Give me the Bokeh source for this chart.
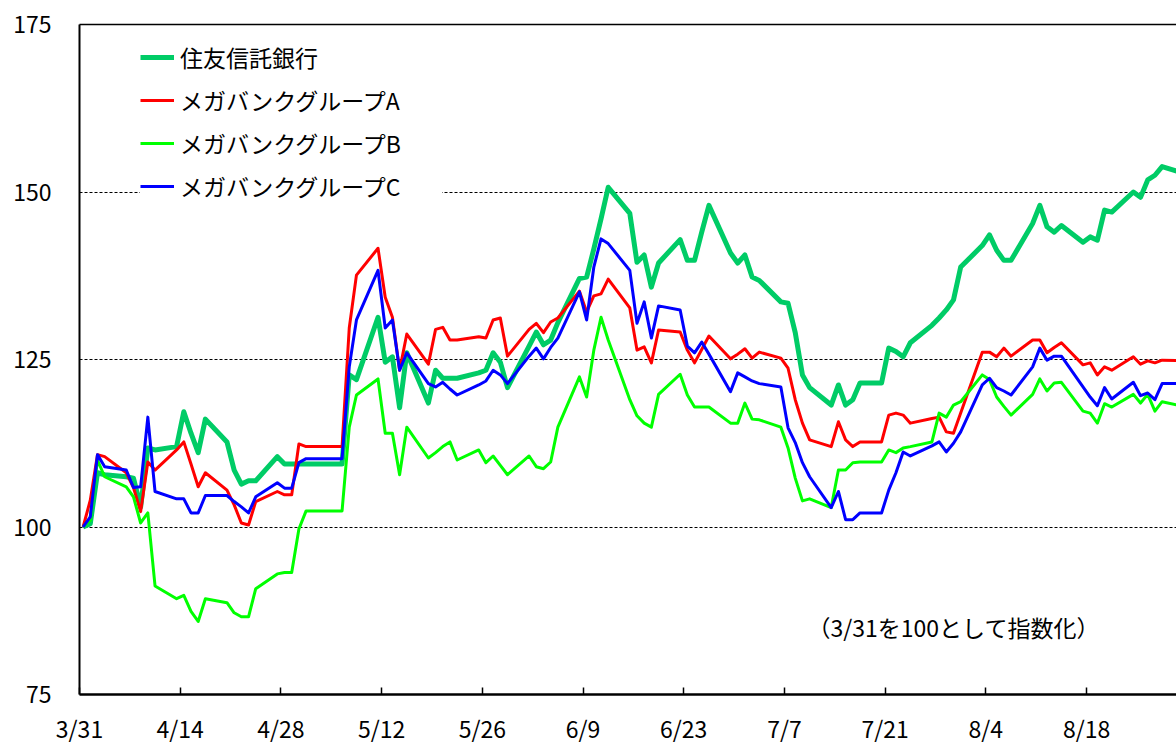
from bokeh.plotting import figure
from bokeh.models import FixedTicker, LinearAxis, Legend, LegendItem, Label, Range1d
from bokeh.embed import file_html
from bokeh.resources import INLINE

# Calendar days after 3/31 (trading days plus holiday rows shown flat)
DAYS = [0, 1, 2, 3,
        6, 7, 8, 9, 10,
        13, 14, 15, 16, 17,
        20, 21, 22, 23, 24,
        27, 28, 29, 30, 31,
        36, 37, 38,
        41, 42, 43, 44, 45,
        48, 49, 50, 51, 52,
        55, 56, 57, 58, 59,
        62, 63, 64, 65, 66,
        69, 70, 71, 72, 73,
        76, 77, 78, 79, 80,
        83, 84, 85, 86, 87,
        90, 91, 92, 93, 94,
        97, 98, 99, 100, 101,
        104, 105, 106, 107, 108,
        111, 112, 113, 114, 115,
        118, 119, 120, 121, 122,
        125, 126, 127, 128, 129,
        132, 133, 134, 135, 136,
        139, 140, 141, 142, 143,
        146, 147, 148, 149, 150,
        153]

SUMITOMO = [100, 100.5, 108.1, 107.8,
            107.5, 107.3, 103.0, 111.8, 111.5,
            112.0, 117.2, 114.0, 111.1, 116.1,
            112.7, 108.5, 106.4, 106.9, 106.9,
            110.5, 109.4, 109.4, 109.4, 109.4,
            109.4, 122.7, 122.0,
            131.3, 124.6, 125.4, 117.8, 126.0,
            118.5, 123.4, 122.2, 122.2, 122.2,
            123.0, 123.4, 126.0, 124.6, 120.8,
            127.0, 129.1, 127.2, 127.9, 130.5,
            137.1, 137.3, 141.5, 146.0, 150.7,
            146.8, 139.5, 140.6, 135.8, 139.4,
            142.9, 139.8, 139.8, 144.0, 148.0,
            140.9, 139.4, 140.6, 137.3, 136.8,
            133.6, 133.4, 129.0, 122.7, 120.8,
            118.2, 121.2, 118.2, 119.0, 121.5,
            121.5, 126.7, 126.2, 125.4, 127.5,
            130.1, 131.2, 132.4, 133.9, 138.8,
            142.0, 143.6, 141.3, 139.8, 139.8,
            145.3, 148.0, 144.8, 144.0, 145.0,
            142.5, 143.3, 142.8, 147.3, 147.0,
            150.0, 149.2, 151.8, 152.5, 153.8,
            152.8]

MEGA_A = [100, 104.0, 110.8, 110.5,
          108.1, 105.9, 102.3, 109.7, 108.5,
          111.5, 112.7, 109.4, 106.0, 108.1,
          105.5, 103.3, 100.6, 100.3, 103.8,
          105.3, 104.8, 104.8, 112.4, 112.0,
          112.0, 129.7, 137.6,
          141.6, 134.3, 131.3, 123.4, 128.8,
          124.3, 129.5, 129.8, 127.9, 127.9,
          128.4, 128.2, 130.9, 131.2, 125.5,
          129.5, 130.4, 129.0, 130.6, 131.2,
          135.2, 132.1, 134.5, 134.8, 137.0,
          132.7, 126.4, 126.9, 124.5, 129.4,
          129.1, 126.4, 124.5, 126.5, 128.5,
          125.1, 125.8, 126.6, 125.2, 126.1,
          125.2, 123.7, 119.0, 115.5, 113.0,
          112.0, 115.7, 113.0, 112.0, 112.7,
          112.7, 116.7, 117.0, 116.7, 115.5,
          116.2, 116.4, 114.2, 114.0, 117.0,
          126.1, 126.1, 125.4, 126.7, 125.5,
          127.9, 127.9, 126.0, 126.8, 127.5,
          124.2, 124.5, 122.7, 123.9, 123.4,
          125.4, 124.3, 124.8, 124.5, 124.9,
          124.8]

MEGA_B = [100, 101.0, 110.0, 107.5,
          106.0, 104.5, 100.6, 102.1, 91.2,
          89.3, 89.8, 87.4, 85.9, 89.3,
          88.7, 87.2, 86.6, 86.6, 90.8,
          93.0, 93.2, 93.2, 99.7, 102.4,
          102.4, 114.9, 119.7,
          122.1, 114.0, 114.0, 107.8, 114.9,
          110.3, 111.1, 112.0, 112.7, 110.0,
          111.5, 109.6, 110.6, 109.2, 107.8,
          110.6, 109.0, 108.7, 109.7, 114.9,
          122.4, 119.4, 126.4, 131.3, 127.9,
          119.0, 116.6, 115.5, 114.9, 119.8,
          122.8, 119.7, 117.9, 117.9, 117.9,
          115.5, 115.5, 118.5, 116.1, 116.0,
          114.9, 111.8, 107.3, 103.9, 104.2,
          102.9, 108.5, 108.5, 109.6, 109.7,
          109.7, 111.5, 111.1, 111.8, 112.0,
          112.7, 117.0, 116.4, 118.2, 118.7,
          122.7, 122.0, 119.4, 118.0, 116.7,
          119.8, 122.1, 120.3, 121.5, 121.6,
          117.3, 117.0, 115.5, 118.4, 117.9,
          119.8, 118.5, 119.8, 117.3, 118.7,
          118.0]

MEGA_C = [100, 101.5, 110.8, 109.0,
          108.5, 105.9, 106.0, 116.4, 105.3,
          104.2, 104.2, 102.1, 102.1, 104.7,
          104.7, 103.8, 103.0, 102.1, 104.5,
          106.6, 105.8, 105.8, 109.6, 110.2,
          110.2, 123.9, 130.9,
          138.3, 129.7, 130.9, 123.4, 126.0,
          121.4, 120.9, 121.6, 120.6, 119.7,
          121.2, 121.8, 123.4, 122.7, 121.4,
          125.5, 126.7, 125.1, 126.8, 128.2,
          135.1, 130.9, 138.8, 143.0, 142.3,
          138.3, 130.4, 133.6, 128.2, 133.0,
          132.4, 127.0, 126.0, 127.6, 125.8,
          120.2, 123.0, 122.4, 121.8, 121.4,
          120.9, 114.8, 112.6, 109.6, 107.5,
          102.9, 105.3, 101.1, 101.1, 102.1,
          102.1, 105.5, 108.1, 111.2, 110.6,
          112.1, 112.7, 111.2, 112.5, 114.2,
          121.2, 122.2, 120.8, 120.3, 119.7,
          123.9, 126.7, 124.9, 125.5, 125.5,
          120.9, 119.4, 118.1, 120.8, 119.1,
          121.6, 119.6, 120.0, 119.0, 121.4,
          121.4]

SERIES_NAMES = ["住友信託銀行", "メガバンクグループA", "メガバンクグループB", "メガバンクグループC"]
SERIES_COLORS = ["#00CC66", "#FF0000", "#00FF00", "#0000FF"]
SERIES_WIDTHS = [5, 3, 3, 3]

TICK_DAYS = [0, 14, 28, 42, 56, 70, 84, 98, 112, 126, 140]
TICK_LABELS = ["3/31", "4/14", "4/28", "5/12", "5/26", "6/9", "6/23", "7/7", "7/21", "8/4", "8/18"]
Y_TICKS = [75, 100, 125, 150, 175]
NOTE = "（3/31を100として指数化）"

FONT = "Noto Sans CJK JP"

# points sit in the middle of each day slot
xs = [d + 0.5 for d in DAYS]

p = figure(width=1176, height=747, output_backend="svg", toolbar_location=None,
           x_range=Range1d(0, 152.5), y_range=Range1d(75, 175),
           min_border_left=79, min_border_right=0, min_border_top=24, min_border_bottom=52,
           outline_line_color=None, background_fill_color="white", border_fill_color="white")

# x axis
p.xaxis.ticker = FixedTicker(ticks=TICK_DAYS)
p.xaxis.major_label_overrides = {d: lab for d, lab in zip(TICK_DAYS, TICK_LABELS)}
p.xaxis.major_tick_in = 7
p.xaxis.major_tick_out = 0
p.xaxis.major_tick_line_width = 1.5
p.xaxis.major_tick_line_color = "black"
p.xaxis.minor_tick_line_color = None
p.xaxis.axis_line_width = 2.5
p.xaxis.axis_line_color = "black"
p.xaxis.major_label_text_font = FONT
p.xaxis.major_label_text_font_size = "23px"
p.xaxis.major_label_text_color = "black"
p.xaxis.major_label_standoff = 16

# y axis
p.yaxis.ticker = FixedTicker(ticks=Y_TICKS)
p.yaxis.major_tick_in = 0
p.yaxis.major_tick_out = 0
p.yaxis.minor_tick_line_color = None
p.yaxis.axis_line_width = 2
p.yaxis.axis_line_color = "black"
p.yaxis.major_label_text_font = FONT
p.yaxis.major_label_text_font_size = "23px"
p.yaxis.major_label_text_color = "black"
p.yaxis.major_label_standoff = 28

# top border line
top = LinearAxis(ticker=FixedTicker(ticks=[]), axis_line_width=1.5, axis_line_color="black",
                 major_tick_in=0, major_tick_out=0, minor_tick_line_color=None,
                 major_label_text_font_size="0px", major_label_standoff=0)
p.add_layout(top, "above")

# grid
p.xgrid.grid_line_color = None
p.ygrid.ticker = FixedTicker(ticks=Y_TICKS)
p.ygrid.grid_line_color = "black"
p.ygrid.grid_line_width = 1
p.ygrid.grid_line_dash = "3 2"

renderers = []
for ys, col, w in zip([SUMITOMO, MEGA_A, MEGA_B, MEGA_C], SERIES_COLORS, SERIES_WIDTHS):
    r = p.line(xs, ys, line_color=col, line_width=w, line_join="round")
    renderers.append(r)

legend = Legend(items=[LegendItem(label=n, renderers=[r]) for n, r in zip(SERIES_NAMES, renderers)],
                location=(61, 487), glyph_width=34, glyph_height=42, label_height=42,
                label_width=262, spacing=1, padding=10, margin=0, label_standoff=6,
                label_text_font=FONT, label_text_font_size="23px", label_text_color="black",
                border_line_color=None, background_fill_color="white", background_fill_alpha=1.0)
p.add_layout(legend)

p.add_layout(Label(x=101.2, y=85.1, text=NOTE, text_font=FONT, text_font_size="23px",
                   text_color="black", text_baseline="middle"))

open("out.html", "w").write(file_html(p, INLINE))
